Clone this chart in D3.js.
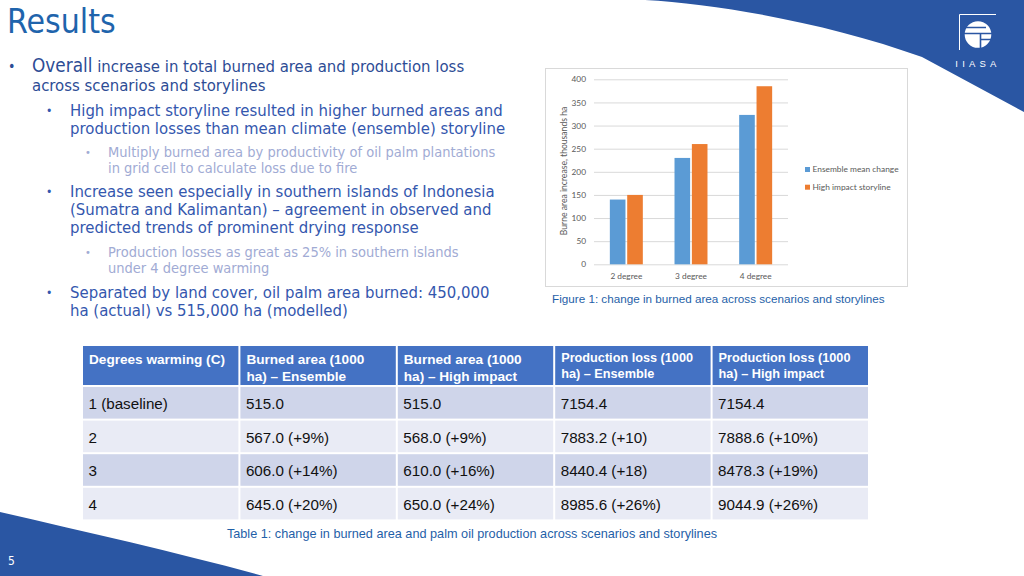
<!DOCTYPE html>
<html><head><meta charset="utf-8">
<script src="https://cdn.jsdelivr.net/npm/d3@7"></script>
<style>
html,body{margin:0;padding:0;background:#fff;}
svg{display:block;}
</style></head><body>
<svg id="slide" width="1024" height="576"></svg>
<script>
// ---------- chart data ----------
const categories = ["2 degree", "3 degree", "4 degree"];
const seriesNames = ["Ensemble mean change", "High impact storyline"];
const ensembleValues = [140, 230, 323];
const highImpactValues = [150, 260, 385];
const yTicks = [0, 50, 100, 150, 200, 250, 300, 350, 400];
const yTitle = "Burne area increase, thousands ha";
const figureCaption = "Figure 1: change in burned area across scenarios and storylines";

// ---------- table data ----------
const tableHeaders = [
  ["Degrees warming (C)"],
  ["Burned area (1000", "ha) – Ensemble"],
  ["Burned area (1000", "ha) – High impact"],
  ["Production loss (1000", "ha) – Ensemble"],
  ["Production loss (1000", "ha) – High impact"]
];
const degreesWarming = ["1 (baseline)", "2", "3", "4"];
const burnedEnsemble = ["515.0", "567.0 (+9%)", "606.0 (+14%)", "645.0 (+20%)"];
const burnedHigh = ["515.0", "568.0 (+9%)", "610.0 (+16%)", "650.0 (+24%)"];
const lossEnsemble = ["7154.4", "7883.2 (+10)", "8440.4 (+18)", "8985.6 (+26%)"];
const lossHigh = ["7154.4", "7888.6 (+10%)", "8478.3 (+19%)", "9044.9 (+26%)"];
const tableCaption = "Table 1: change in burned area and palm oil production across scenarios and storylines";

// ---------- slide text ----------
const slideTitle = "Results";
const bulletLines = [
  {level: 1, bullet: true, parts: ["Overall", " increase in total burned area and production loss"]},
  {level: 1, parts: ["across scenarios and storylines"]},
  {level: 2, bullet: true, parts: ["High impact storyline resulted in higher burned areas and"]},
  {level: 2, parts: ["production losses than mean climate (ensemble) storyline"]},
  {level: 3, bullet: true, parts: ["Multiply burned area by productivity of oil palm plantations"]},
  {level: 3, parts: ["in grid cell to calculate loss due to fire"]},
  {level: 2, bullet: true, parts: ["Increase seen especially in southern islands of Indonesia"]},
  {level: 2, parts: ["(Sumatra and Kalimantan) – agreement in observed and"]},
  {level: 2, parts: ["predicted trends of prominent drying response"]},
  {level: 3, bullet: true, parts: ["Production losses as great as 25% in southern islands"]},
  {level: 3, parts: ["under 4 degree warming"]},
  {level: 2, bullet: true, parts: ["Separated by land cover, oil palm area burned: 450,000"]},
  {level: 2, parts: ["ha (actual) vs 515,000 ha (modelled)"]}
];
const pageNumber = "5";

// ---------- layout ----------
const svg = d3.select("#slide");
const BLUE = "#2A56A3";
const bodyFont = "'DejaVu Sans Condensed', 'DejaVu Sans', sans-serif";
const armFont = "'Liberation Sans', Arial, sans-serif";
const chartFont = "Lato, 'Open Sans', sans-serif";

// background shapes
svg.append("path")
  .attr("d", "M645,0 C720,4 830,24 922,57 L1024,112 L1024,0 Z")
  .attr("fill", BLUE);
svg.append("path")
  .attr("d", "M0,512 C90,533 180,553 263,576 L0,576 Z")
  .attr("fill", BLUE);

// logo
const logo = svg.append("g");
logo.append("path").attr("d", "M959.5,50 L959.5,14.5 L996,14.5").attr("fill", "none").attr("stroke", "#fff").attr("stroke-width", 1);
logo.append("circle").attr("cx", 978).attr("cy", 34.5).attr("r", 13.3).attr("fill", "#fff");
logo.append("path").attr("d", "M963,27.5 L986,27.5 M963,33.5 L993,33.5 M980.5,33.5 L980.5,49 M980.5,39.5 L993,39.5")
  .attr("stroke", BLUE).attr("stroke-width", 1.6).attr("fill", "none");
logo.append("text").attr("x", 978).attr("y", 67).attr("text-anchor", "middle")
  .attr("font-family", armFont).attr("font-size", 9.5).attr("letter-spacing", 4.2).attr("fill", "#fff")
  .text("IIASA");

// page number
svg.append("text").attr("x", 8).attr("y", 565).attr("font-family", bodyFont).attr("font-size", 12)
  .attr("fill", "#fff").text(pageNumber);

// title
svg.append("text").attr("x", 7).attr("y", 33).attr("font-family", bodyFont).attr("font-size", 33.5)
  .attr("fill", "#1F64AC").text(slideTitle);

// bullets
const levelStyle = {
  1: {bx: 8, tx: 32, size: 16.6, color: "#2D4C95", bsize: 14},
  2: {bx: 46, tx: 70, size: 16.6, color: "#3457AE", bsize: 12},
  3: {bx: 85, tx: 108, size: 14.5, color: "#A1ABD4", bsize: 11}
};
const baselines = [71.5, 90.5, 116, 134, 156.5, 172.5, 196.5, 215, 233, 257, 273, 298, 316];
bulletLines.forEach((ln, i) => {
  const st = levelStyle[ln.level];
  if (ln.bullet) {
    svg.append("text").attr("x", st.bx).attr("y", baselines[i] - 1).attr("font-family", bodyFont)
      .attr("font-size", st.bsize).attr("fill", st.color).text("•");
  }
  const t = svg.append("text").attr("x", st.tx).attr("y", baselines[i]).attr("font-family", bodyFont)
    .attr("fill", st.color).attr("font-size", st.size);
  ln.parts.forEach((p, j) => {
    t.append("tspan").attr("font-size", (ln.level === 1 && j === 0 && ln.parts.length > 1) ? 18.8 : st.size).text(p);
  });
});

// ---------- chart ----------
svg.append("rect").attr("x", 545.5).attr("y", 68.5).attr("width", 362).attr("height", 218)
  .attr("fill", "#fff").attr("stroke", "#D9D9D9").attr("stroke-width", 1);

const plot = {left: 594, right: 788, top: 79.3, bottom: 264.3};
const y = d3.scaleLinear().domain([0, 400]).range([plot.bottom, plot.top]);
const x0 = d3.scaleBand().domain(categories).range([plot.left, plot.right]).paddingInner(0.49).paddingOuter(0.245);
const x1 = d3.scaleBand().domain(seriesNames).range([0, x0.bandwidth()]).paddingInner(0.1);
const color = d3.scaleOrdinal().domain(seriesNames).range(["#5B9BD5", "#ED7D31"]);

const yAxis = svg.append("g").attr("transform", `translate(${plot.left},0)`)
  .call(d3.axisLeft(y).tickValues(yTicks).tickSize(-(plot.right - plot.left)).tickPadding(8));
yAxis.select(".domain").remove();
yAxis.selectAll(".tick line").attr("stroke", "#D9D9D9").attr("stroke-width", 1);
yAxis.selectAll(".tick text").attr("font-family", chartFont).attr("font-size", 8.3).attr("fill", "#595959");

const seriesData = seriesNames.map((s, si) => ({name: s, values: si === 0 ? ensembleValues : highImpactValues}));
const groups = svg.append("g").selectAll("g").data(categories).join("g")
  .attr("transform", d => `translate(${x0(d)},0)`);
groups.selectAll("rect").data((d, i) => seriesData.map(s => ({name: s.name, v: s.values[i]}))).join("rect")
  .attr("x", d => x1(d.name)).attr("width", x1.bandwidth())
  .attr("y", d => y(d.v)).attr("height", d => y(0) - y(d.v))
  .attr("fill", d => color(d.name));

const xAxis = svg.append("g").attr("transform", `translate(0,${plot.bottom})`)
  .call(d3.axisBottom(x0).tickSize(0).tickPadding(9));
xAxis.select(".domain").remove();
xAxis.selectAll(".tick text").attr("font-family", chartFont).attr("font-size", 8.3).attr("fill", "#595959");

svg.append("text").attr("transform", `translate(567,171) rotate(-90)`).attr("text-anchor", "middle")
  .attr("font-family", chartFont).attr("font-size", 8.6).attr("fill", "#595959").text(yTitle);

const legend = svg.append("g").selectAll("g").data(seriesNames).join("g")
  .attr("transform", (d, i) => `translate(805,${169.5 + i * 17.7})`);
legend.append("rect").attr("x", 0).attr("y", -2.5).attr("width", 5).attr("height", 5).attr("fill", d => color(d));
legend.append("text").attr("x", 7.5).attr("y", 0).attr("dy", "0.35em").attr("font-family", chartFont)
  .attr("font-size", 8.4).attr("fill", "#595959").text(d => d);

svg.append("text").attr("x", 552).attr("y", 303).attr("font-family", armFont).attr("font-size", 11.7)
  .attr("fill", "#1F5FA8").text(figureCaption);

// ---------- table ----------
const tableCols = [degreesWarming, burnedEnsemble, burnedHigh, lossEnsemble, lossHigh];
const colX = d3.scaleBand().domain(d3.range(tableHeaders.length)).range([82, 869]);
const headerTop = 346, headerH = 40, rowH = 33.6;
const rowY = d3.scaleBand().domain(d3.range(degreesWarming.length))
  .range([headerTop + headerH, headerTop + headerH + rowH * degreesWarming.length]);

const tbl = svg.append("g");
tbl.selectAll("rect.h").data(tableHeaders).join("rect").attr("class", "h")
  .attr("x", (d, i) => colX(i) + 1).attr("y", headerTop).attr("width", colX.bandwidth() - 2).attr("height", headerH - 1)
  .attr("fill", "#4472C4");
tbl.selectAll("text.h").data(tableHeaders).join("text").attr("class", "h")
  .attr("font-family", armFont).attr("font-weight", "bold").attr("fill", "#fff")
  .attr("font-size", (d, i) => i >= 3 ? 12.7 : 13.6)
  .each(function (d, i) {
    const startY = i >= 3 ? 361.5 : 363.5;
    const step = i >= 3 ? 16.5 : 17;
    d3.select(this).selectAll("tspan").data(d).join("tspan")
      .attr("x", colX(i) + 7).attr("y", (t, k) => startY + k * step).text(t => t);
  });

const rowsData = degreesWarming.map((_, r) => tableCols.map(c => c[r]));
const rows = tbl.selectAll("g.row").data(rowsData).join("g").attr("class", "row")
  .attr("transform", (d, r) => `translate(0,${rowY(r)})`);
rows.selectAll("rect").data((d, r) => d.map(v => ({v, r}))).join("rect")
  .attr("x", (d, i) => colX(i) + 1).attr("y", 1).attr("width", colX.bandwidth() - 2).attr("height", rowY.bandwidth() - 2)
  .attr("fill", d => d.r % 2 === 0 ? "#CFD5EA" : "#E9EBF5");
rows.selectAll("text").data(d => d).join("text")
  .attr("x", (d, i) => colX(i) + 6.5).attr("y", rowY.bandwidth() / 2 + 1).attr("dy", "0.35em")
  .attr("font-family", armFont).attr("font-size", 15.2).attr("fill", "#111").text(d => d);

svg.append("text").attr("x", 472).attr("y", 538).attr("text-anchor", "middle").attr("font-family", armFont)
  .attr("font-size", 12.7).attr("fill", "#1F5FA8").text(tableCaption);
</script>
</body></html>
